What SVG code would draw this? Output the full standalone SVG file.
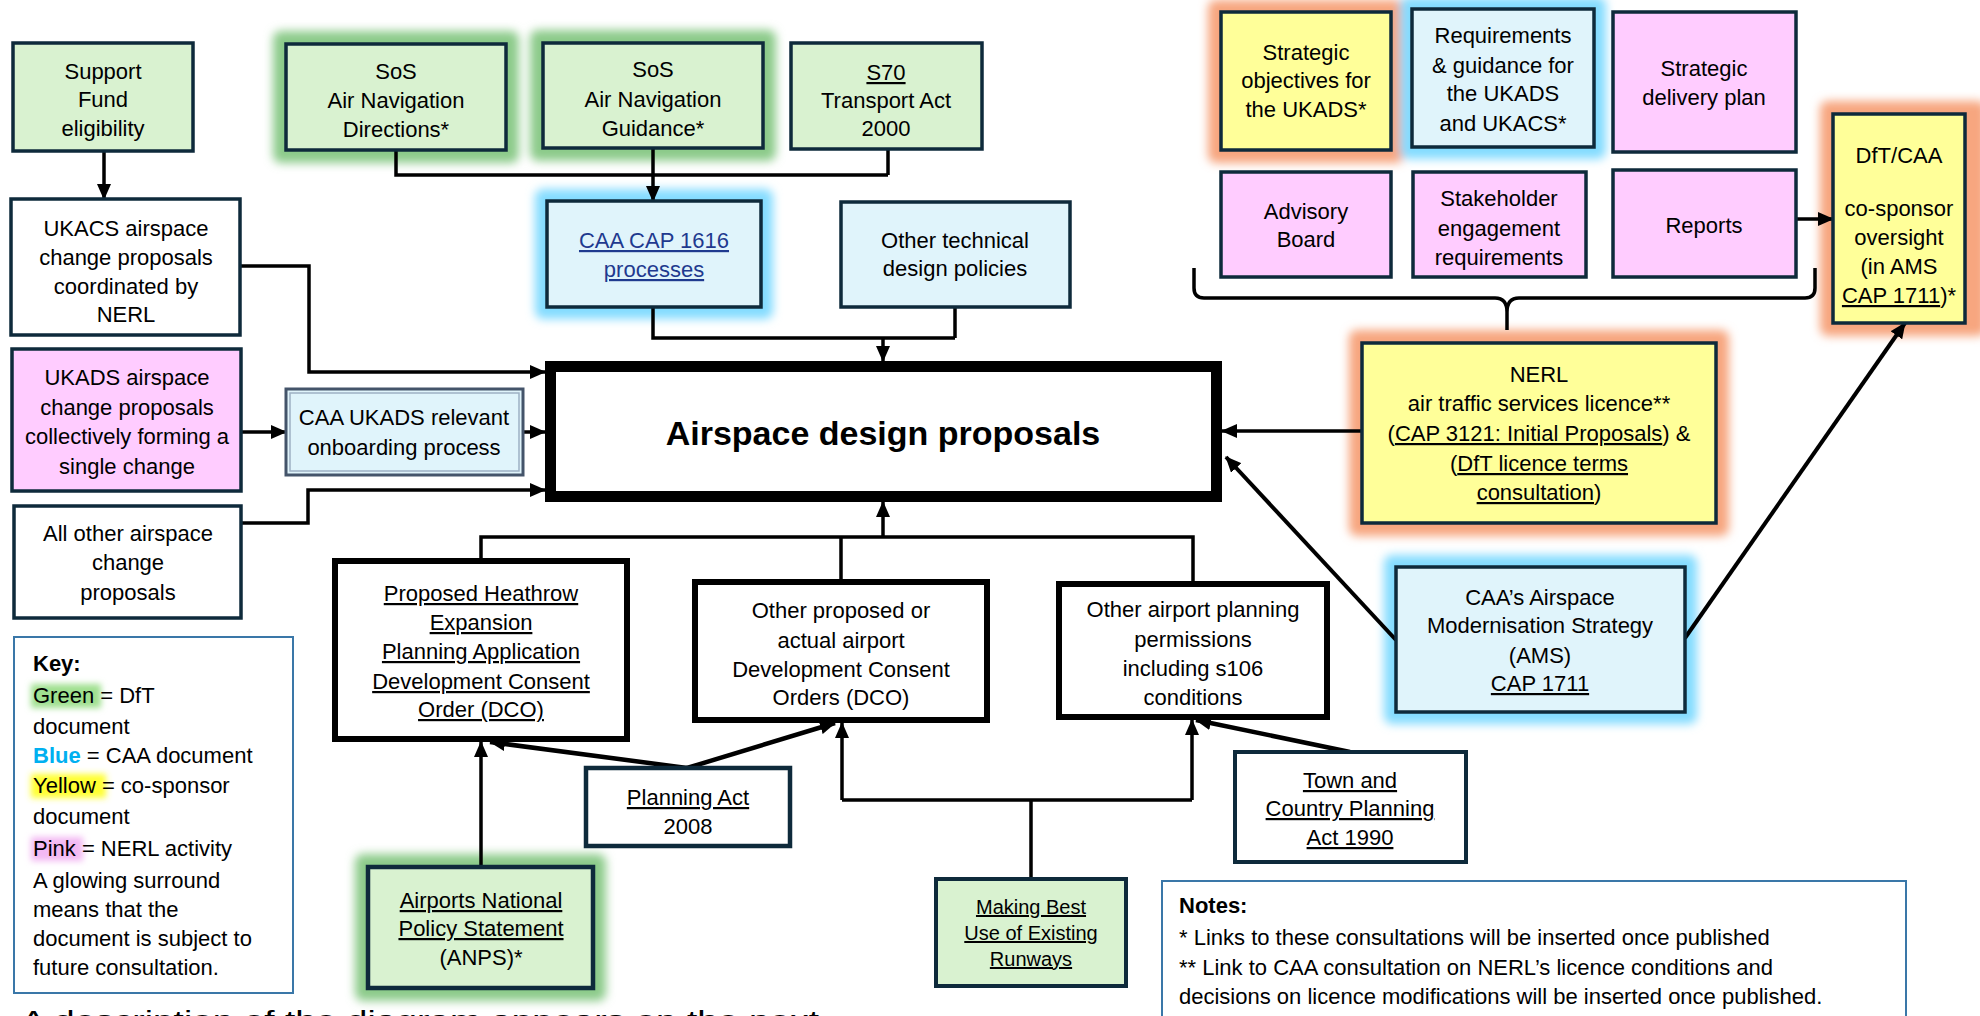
<svg xmlns="http://www.w3.org/2000/svg" width="1980" height="1016" viewBox="0 0 1980 1016">
<defs>
<style>
.t{font-family:"Liberation Sans",Arial,sans-serif;font-size:22px;fill:#000;text-anchor:middle}
.s{font-size:20px}
.tl{font-family:"Liberation Sans",Arial,sans-serif;font-size:22px;fill:#000}
.b{stroke:#0e2a3b;stroke-width:3.5}
.g{fill:#d9f2d0}
.bl{fill:#e0f4fb}
.y{fill:#ffff99}
.p{fill:#ffccff}
.w{fill:#fff}
.thick{fill:#fff;stroke:#000;stroke-width:6}
.gg{fill:#8ccb8a}
.gb{fill:#84dcff}
.go{fill:#f7a67f}
.u{text-decoration:underline}
.lk{fill:#1f3a8f;text-decoration:underline}
.c{fill:none;stroke:#000;stroke-width:3.5}
.ca{fill:none;stroke:#000;stroke-width:3.5;marker-end:url(#ah)}
.kb{fill:#fff;stroke:#3a77a8;stroke-width:2}
</style>
<filter id="blur" x="-30%" y="-30%" width="160%" height="160%"><feGaussianBlur stdDeviation="5"/></filter>
<filter id="blur2" x="-30%" y="-50%" width="160%" height="200%"><feGaussianBlur stdDeviation="3"/></filter>
<marker id="ah" markerWidth="16" markerHeight="14" refX="15" refY="7" orient="auto" markerUnits="userSpaceOnUse"><path d="M0,0 L16,7 L0,14 z" fill="#000"/></marker>
</defs>
<rect width="1980" height="1016" fill="#fff"/>

<!-- glows -->
<g id="glows" filter="url(#blur)">
<rect class="gg" x="273" y="31" width="246" height="132" rx="8"/>
<rect class="gg" x="530" y="30" width="246" height="131" rx="8"/>
<rect class="gb" x="535" y="189" width="238" height="130" rx="8"/>
<rect class="go" x="1208" y="0" width="196" height="163" rx="8"/>
<rect class="gb" x="1400" y="-3" width="206" height="162" rx="8"/>
<rect class="go" x="1820" y="101" width="166" height="235" rx="8"/>
<rect class="go" x="1349" y="330" width="380" height="206" rx="8"/>
<rect class="gb" x="1384" y="555" width="313" height="169" rx="8"/>
<rect class="gg" x="355" y="854" width="251" height="147" rx="8"/>
</g>

<!-- connectors -->
<g id="connectors">
<path class="ca" d="M104,151 V199"/>
<path class="c" d="M396,150 V175 H888 M888,149 V175"/>
<path class="ca" d="M653,148 V201"/>
<path class="c" d="M653,307 V338 H955 M955,307 V338"/>
<path class="ca" d="M883,338 V361"/>
<path class="ca" d="M240,266 H309 V372 H545"/>
<path class="ca" d="M241,432 H286"/>
<path class="ca" d="M523,432 H545"/>
<path class="ca" d="M241,523 H308 V490 H545"/>
<path class="c" d="M481,558 V537 H1193 V581 M841,579 V537"/>
<path class="ca" d="M883,537 V502"/>
<path class="ca" d="M481,867 V742"/>
<path class="ca" d="M687,768 L490,742" style="stroke-width:4.5"/>
<path class="ca" d="M687,768 L835,723" style="stroke-width:4.5"/>
<path class="c" d="M1031,879 V800 M842,800 H1192"/>
<path class="ca" d="M842,800 V723"/>
<path class="ca" d="M1192,800 V720"/>
<path class="ca" d="M1350,752 L1196,720" style="stroke-width:4.5"/>
<path class="ca" d="M1362,431 H1222"/>
<path class="ca" d="M1396,640 L1226,457" style="stroke-width:4"/>
<path class="ca" d="M1685,638 L1905,323" style="stroke-width:4"/>
<path class="ca" d="M1796,219 H1833"/>
<path class="c" d="M1194,268 V288 Q1194,298 1204,298 H1495 Q1507,298 1507,312 V330 M1507,312 Q1507,298 1519,298 H1805 Q1815,298 1815,288 V268"/>
</g>

<g id="support"><rect class="g b" x="13" y="43" width="180" height="108"/>
<text class="t"><tspan x="103" y="79">Support</tspan><tspan x="103" y="107">Fund</tspan><tspan x="103" y="136">eligibility</tspan></text></g>

<g id="sos-directions"><rect class="g b" x="286" y="44" width="220" height="106"/>
<text class="t"><tspan x="396" y="79">SoS</tspan><tspan x="396" y="108">Air Navigation</tspan><tspan x="396" y="137">Directions*</tspan></text></g>

<g id="sos-guidance"><rect class="g b" x="543" y="43" width="220" height="105"/>
<text class="t"><tspan x="653" y="77">SoS</tspan><tspan x="653" y="107">Air Navigation</tspan><tspan x="653" y="136">Guidance*</tspan></text></g>

<g id="s70"><rect class="g b" x="791" y="43" width="191" height="106"/>
<text class="t"><tspan x="886" y="80" class="u">S70</tspan><tspan x="886" y="108">Transport Act</tspan><tspan x="886" y="136">2000</tspan></text></g>

<g id="ukacs"><rect class="w b" x="11" y="199" width="229" height="136"/>
<text class="t"><tspan x="126" y="236">UKACS airspace</tspan><tspan x="126" y="265">change proposals</tspan><tspan x="126" y="294">coordinated by</tspan><tspan x="126" y="322">NERL</tspan></text></g>

<g id="cap1616"><rect class="bl b" x="547" y="201" width="214" height="106"/>
<text class="t"><tspan x="654" y="248" class="lk">CAA CAP 1616</tspan><tspan x="654" y="277" class="lk">processes</tspan></text></g>

<g id="other-tech"><rect class="bl b" x="841" y="202" width="229" height="105"/>
<text class="t"><tspan x="955" y="248">Other technical</tspan><tspan x="955" y="276">design policies</tspan></text></g>

<g id="ukads"><rect class="p b" x="12" y="349" width="229" height="142"/>
<text class="t"><tspan x="127" y="385">UKADS airspace</tspan><tspan x="127" y="415">change proposals</tspan><tspan x="127" y="444">collectively forming a</tspan><tspan x="127" y="474">single change</tspan></text></g>

<g id="onboarding"><rect class="bl" x="286" y="389" width="237" height="86" stroke="#44546a" stroke-width="3"/>
<rect x="290" y="393" width="229" height="78" fill="none" stroke="#9db0c4" stroke-width="1.5"/>
<text class="t"><tspan x="404" y="425">CAA UKADS relevant</tspan><tspan x="404" y="455">onboarding process</tspan></text></g>

<g id="all-other"><rect class="w b" x="14" y="506" width="227" height="112"/>
<text class="t"><tspan x="128" y="541">All other airspace</tspan><tspan x="128" y="570">change</tspan><tspan x="128" y="600">proposals</tspan></text></g>

<g id="main"><rect x="550.5" y="366.5" width="666" height="130" fill="#fff" stroke="#000" stroke-width="11"/>
<text class="t" x="883" y="445" style="font-size:34px;font-weight:bold">Airspace design proposals</text></g>

<g id="heathrow"><rect class="thick" x="335" y="561" width="292" height="178"/>
<text class="t"><tspan x="481" y="601" class="u">Proposed Heathrow</tspan><tspan x="481" y="630" class="u">Expansion</tspan><tspan x="481" y="659" class="u">Planning Application</tspan><tspan x="481" y="689" class="u">Development Consent</tspan><tspan x="481" y="717" class="u">Order (DCO)</tspan></text></g>

<g id="other-proposed"><rect class="thick" x="695" y="582" width="292" height="138"/>
<text class="t"><tspan x="841" y="618">Other proposed or</tspan><tspan x="841" y="648">actual airport</tspan><tspan x="841" y="677">Development Consent</tspan><tspan x="841" y="705">Orders (DCO)</tspan></text></g>

<g id="other-airport"><rect class="thick" x="1059" y="584" width="268" height="133"/>
<text class="t"><tspan x="1193" y="617">Other airport planning</tspan><tspan x="1193" y="647">permissions</tspan><tspan x="1193" y="676">including s106</tspan><tspan x="1193" y="705">conditions</tspan></text></g>

<g id="planning-act"><rect class="w b" x="586" y="768" width="204" height="78" style="stroke-width:4.5"/>
<text class="t"><tspan x="688" y="805" class="u">Planning Act</tspan><tspan x="688" y="834">2008</tspan></text></g>

<g id="anps"><rect class="g b" x="368" y="867" width="225" height="121" style="stroke-width:4.5"/>
<text class="t"><tspan x="481" y="908" class="u">Airports National</tspan><tspan x="481" y="936" class="u">Policy Statement</tspan><tspan x="481" y="965">(ANPS)*</tspan></text></g>

<g id="making-best"><rect class="g b" x="936" y="879" width="190" height="107" style="stroke-width:4"/>
<text class="t s"><tspan x="1031" y="914" class="u">Making Best</tspan><tspan x="1031" y="940" class="u">Use of Existing</tspan><tspan x="1031" y="966" class="u">Runways</tspan></text></g>

<g id="town-country"><rect class="w b" x="1235" y="752" width="231" height="110" style="stroke-width:4"/>
<text class="t"><tspan x="1350" y="788" class="u">Town and</tspan><tspan x="1350" y="816" class="u">Country Planning</tspan><tspan x="1350" y="845" class="u">Act 1990</tspan></text></g>

<g id="strategic-objectives"><rect class="y b" x="1221" y="12" width="170" height="138"/>
<text class="t"><tspan x="1306" y="60">Strategic</tspan><tspan x="1306" y="88">objectives for</tspan><tspan x="1306" y="117">the UKADS*</tspan></text></g>

<g id="requirements"><rect class="bl b" x="1412" y="9" width="182" height="138"/>
<text class="t"><tspan x="1503" y="43">Requirements</tspan><tspan x="1503" y="73">&amp; guidance for</tspan><tspan x="1503" y="101">the UKADS</tspan><tspan x="1503" y="131">and UKACS*</tspan></text></g>

<g id="strategic-delivery"><rect class="p b" x="1613" y="12" width="183" height="140"/>
<text class="t"><tspan x="1704" y="76">Strategic</tspan><tspan x="1704" y="105">delivery plan</tspan></text></g>

<g id="advisory"><rect class="p b" x="1221" y="172" width="170" height="105"/>
<text class="t"><tspan x="1306" y="219">Advisory</tspan><tspan x="1306" y="247">Board</tspan></text></g>

<g id="stakeholder"><rect class="p b" x="1413" y="172" width="173" height="105"/>
<text class="t"><tspan x="1499" y="206">Stakeholder</tspan><tspan x="1499" y="236">engagement</tspan><tspan x="1499" y="265">requirements</tspan></text></g>

<g id="reports"><rect class="p b" x="1613" y="170" width="183" height="107"/>
<text class="t" x="1704" y="233">Reports</text></g>

<g id="dft-caa"><rect class="y b" x="1833" y="114" width="132" height="209"/>
<text class="t"><tspan x="1899" y="163">DfT/CAA</tspan><tspan x="1899" y="216">co-sponsor</tspan><tspan x="1899" y="245">oversight</tspan><tspan x="1899" y="274">(in AMS</tspan><tspan x="1899" y="303"><tspan class="u">CAP 1711</tspan>)*</tspan></text></g>

<g id="nerl"><rect class="y b" x="1362" y="343" width="354" height="180"/>
<text class="t"><tspan x="1539" y="382">NERL</tspan><tspan x="1539" y="411">air traffic services licence**</tspan><tspan x="1539" y="441">(<tspan class="u">CAP 3121: Initial Proposals</tspan>) &amp;</tspan><tspan x="1539" y="471">(<tspan class="u">DfT licence terms</tspan></tspan><tspan x="1539" y="500"><tspan class="u">consultation</tspan>)</tspan></text></g>

<g id="ams"><rect class="bl b" x="1396" y="567" width="289" height="145"/>
<text class="t"><tspan x="1540" y="605">CAA’s Airspace</tspan><tspan x="1540" y="633">Modernisation Strategy</tspan><tspan x="1540" y="663">(AMS)</tspan><tspan x="1540" y="691" class="u">CAP 1711</tspan></text></g>

<g id="key"><rect class="kb" x="14" y="637" width="279" height="356"/>
<g filter="url(#blur2)">
<rect x="31" y="684" width="70" height="24" fill="#9fe08f"/>
<rect x="31" y="774" width="75" height="24" fill="#ffff33"/>
<rect x="31" y="837" width="52" height="24" fill="#f3b8f3"/>
</g>
<text class="tl"><tspan x="33" y="671" font-weight="bold">Key:</tspan>
<tspan x="33" y="703">Green = DfT</tspan>
<tspan x="33" y="734">document</tspan>
<tspan x="33" y="763"><tspan fill="#00b0f0" font-weight="bold">Blue</tspan> = CAA document</tspan>
<tspan x="33" y="793">Yellow = co-sponsor</tspan>
<tspan x="33" y="824">document</tspan>
<tspan x="33" y="856">Pink = NERL activity</tspan>
<tspan x="33" y="888">A glowing surround</tspan>
<tspan x="33" y="917">means that the</tspan>
<tspan x="33" y="946">document is subject to</tspan>
<tspan x="33" y="975">future consultation.</tspan></text></g>

<g id="notes"><rect class="kb" x="1162" y="881" width="744" height="145"/>
<text class="tl"><tspan x="1179" y="913" font-weight="bold">Notes:</tspan>
<tspan x="1179" y="945">* Links to these consultations will be inserted once published</tspan>
<tspan x="1179" y="975">** Link to CAA consultation on NERL’s licence conditions and</tspan>
<tspan x="1179" y="1004">decisions on licence modifications will be inserted once published.</tspan></text></g>

<text class="tl" x="21" y="1029" style="font-size:26px" textLength="798" lengthAdjust="spacingAndGlyphs">A description of the diagram appears on the next</text>
</svg>
